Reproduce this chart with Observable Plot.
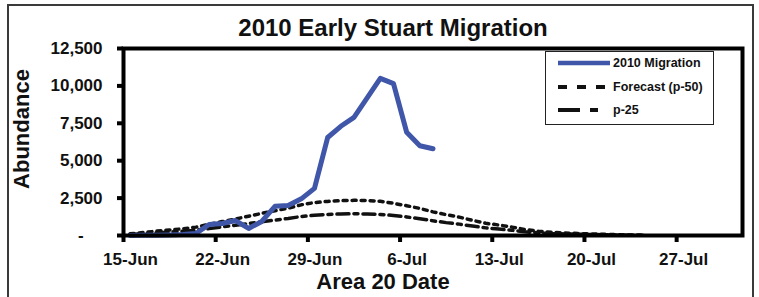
<!DOCTYPE html>
<html><head><meta charset="utf-8">
<script src="https://cdn.jsdelivr.net/npm/d3@7"></script>
<script src="https://cdn.jsdelivr.net/npm/@observablehq/plot@0.6"></script>
<style>
body{margin:0;background:#fff;font-family:"Liberation Sans",Arial,sans-serif;}
#wrap{position:relative;width:759px;height:297px;overflow:hidden;background:#fff;}
#border{position:absolute;left:7px;top:4px;width:743px;height:330px;border:2.5px solid #3a3a3a;}
#chart{position:absolute;left:0;top:0;}
#legend{position:absolute;left:545px;top:51px;width:167px;height:72px;border:1.5px solid #222;background:#fff;}
.row{position:absolute;left:12px;height:14px;display:flex;align-items:center;font-weight:bold;font-size:12.5px;color:#111;white-space:nowrap;}
.row svg{margin-right:3px;}
</style>
</head><body>
<div id="wrap"><div id="border"></div><div id="chart"></div>
<div id="legend"></div></div>
<script>
const title = "2010 Early Stuart Migration";
const yLabel = "Abundance";
const xLabel = "Area 20 Date";
const legendLabels = ["2010 Migration", "Forecast (p-50)", "p-25"];

const migrationDates = ["2010-06-15","2010-06-16","2010-06-17","2010-06-18","2010-06-19","2010-06-20","2010-06-21","2010-06-22","2010-06-23","2010-06-24","2010-06-25","2010-06-26","2010-06-27","2010-06-28","2010-06-29","2010-06-30","2010-07-01","2010-07-02","2010-07-03","2010-07-04","2010-07-05","2010-07-06","2010-07-07","2010-07-08"];
const migration = [0,10,20,40,60,130,740,800,1000,470,940,1950,2000,2450,3150,6550,7300,7900,9200,10500,10150,6900,6000,5800];

const forecastDates = ["2010-06-15","2010-06-16","2010-06-17","2010-06-18","2010-06-19","2010-06-20","2010-06-21","2010-06-22","2010-06-23","2010-06-24","2010-06-25","2010-06-26","2010-06-27","2010-06-28","2010-06-29","2010-06-30","2010-07-01","2010-07-02","2010-07-03","2010-07-04","2010-07-05","2010-07-06","2010-07-07","2010-07-08","2010-07-09","2010-07-10","2010-07-11","2010-07-12","2010-07-13","2010-07-14","2010-07-15","2010-07-16","2010-07-17","2010-07-18","2010-07-19","2010-07-20","2010-07-21","2010-07-22","2010-07-23","2010-07-24"];
const forecastP50 = [110,200,290,370,450,560,750,930,1100,1290,1480,1650,1830,2050,2200,2280,2330,2350,2340,2290,2150,1990,1810,1580,1390,1230,1010,820,700,560,400,280,210,170,135,110,80,55,35,20];
const forecastP25 = [70,120,180,230,280,350,470,580,690,800,920,1030,1140,1270,1360,1410,1440,1450,1440,1410,1340,1240,1120,980,860,760,630,510,430,350,250,175,130,105,85,70,50,35,22,12];

const yTicks = [0,2500,5000,7500,10000,12500];
const xTickDates = ["2010-06-15","2010-06-22","2010-06-29","2010-07-06","2010-07-13","2010-07-20","2010-07-27"];

const parse = d3.utcParse("%Y-%m-%d");
const halfDay = 12*3600*1000;
const mig = migrationDates.map((d,i)=>({date:parse(d), value:migration[i]}));
const p50 = forecastDates.map((d,i)=>({date:parse(d), value:forecastP50[i]}));
const p25 = forecastDates.map((d,i)=>({date:parse(d), value:forecastP25[i]}));
const xTicks = xTickDates.map(parse);
const xd = d => new Date(+d.date + halfDay);

const blue = "#4056a8";
const font = "'Liberation Sans', Arial, sans-serif";
const yFormat = d => d === 0 ? "-\u2007\u2007" : d3.format(",")(d);

const chart = Plot.plot({
  width:759, height:297,
  marginLeft:123, marginRight:17, marginTop:48, marginBottom:62,
  style:{fontFamily:font, fontWeight:"bold", color:"#111", background:"transparent", overflow:"visible"},
  x:{type:"utc", domain:[parse("2010-06-15"), parse("2010-08-01")]},
  y:{domain:[0,12500]},
  marks:[
    Plot.line(p50, {x:xd, y:"value", stroke:"#111", strokeWidth:3.5, strokeDasharray:"4,5"}),
    Plot.line(p25, {x:xd, y:"value", stroke:"#111", strokeWidth:3.5, strokeDasharray:"12,5,4,5"}),
    Plot.line(mig, {x:xd, y:"value", stroke:blue, strokeWidth:5}),
    Plot.frame({stroke:"#000", strokeWidth:4}),
    Plot.axisY({ticks:yTicks, tickFormat:yFormat, tickSize:6, tickPadding:15, strokeWidth:4, stroke:"#000", fontSize:17, fontWeight:"bold", label:null}),
    Plot.axisX({ticks:xTicks, tickSize:7, strokeWidth:4, stroke:"#000", fill:"none", label:null}),
    Plot.axisX({ticks:xTicks, tickSize:0, tickPadding:17, dx:7, tickFormat:d3.utcFormat("%-d-%b"), fontSize:17, fontWeight:"bold", label:null}),
    Plot.text([title], {frameAnchor:"top", lineAnchor:"middle", textAnchor:"middle", dx:-40, dy:-20, fontSize:24, fontWeight:"bold", fill:"#111"}),
    Plot.text([yLabel], {frameAnchor:"left", lineAnchor:"middle", textAnchor:"middle", rotate:-90, dx:-102, dy:-13, fontSize:22, fontWeight:"bold", fill:"#111"}),
    Plot.text([xLabel], {frameAnchor:"bottom", lineAnchor:"middle", textAnchor:"middle", dx:-50, dy:46, fontSize:22, fontWeight:"bold", fill:"#111"})
  ]
});
document.getElementById("chart").appendChild(chart);

// legend
const legend = document.getElementById("legend");
const styles = [
  {stroke:blue, width:4.5, dash:null},
  {stroke:"#111", width:4, dash:"9,10"},
  {stroke:"#111", width:4, dash:"22,10,8,30"}
];
const tops = [4, 28, 51];
legendLabels.forEach((lab,i)=>{
  const row = document.createElement("div");
  row.className = "row";
  row.style.top = tops[i] + "px";
  const s = styles[i];
  row.innerHTML = `<svg width="52" height="14"><line x1="0" x2="52" y1="7" y2="7" stroke="${s.stroke}" stroke-width="${s.width}" ${s.dash?`stroke-dasharray="${s.dash}"`:""}/></svg><span>${lab}</span>`;
  legend.appendChild(row);
});
</script>
</body></html>
